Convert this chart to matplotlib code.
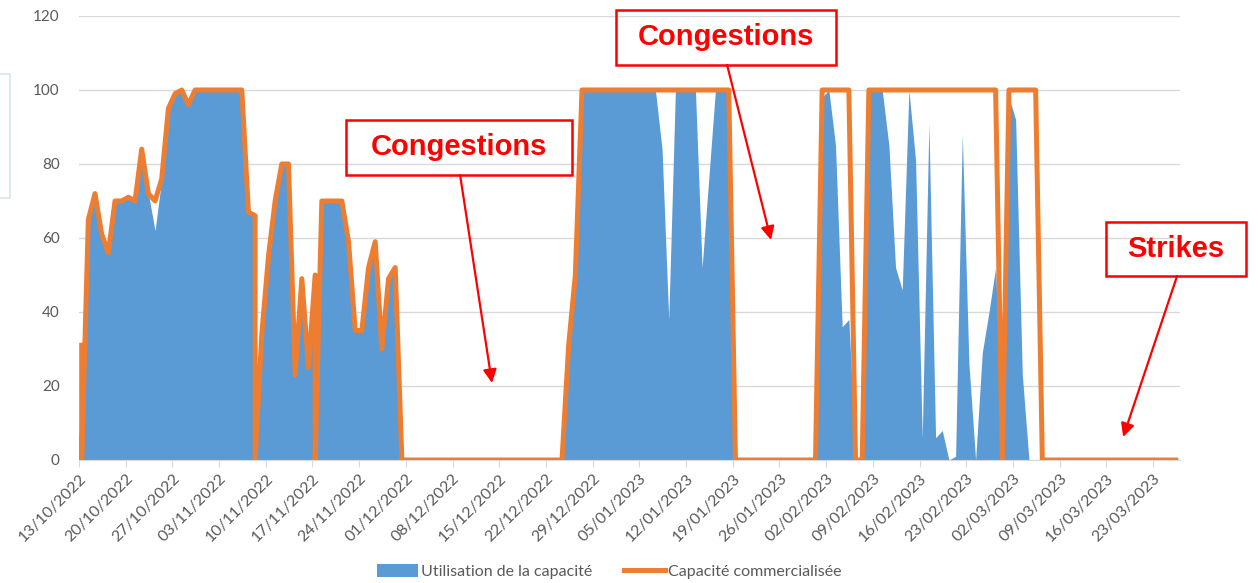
import numpy as np
import pandas as pd
import matplotlib
matplotlib.use("Agg")
import matplotlib.pyplot as plt
import matplotlib.dates as mdates
from matplotlib.patches import Rectangle, Patch
from matplotlib.lines import Line2D

plt.rcParams['font.family'] = ['Lato', 'DejaVu Sans']

# daily series, 13/10/2022 -> 26/03/2023 (one row = one week)
dates = pd.date_range("2022-10-13", "2023-03-26", freq="D")

capacity = [
    31, 65, 72, 61, 56, 70, 70,
    71, 70, 84, 72, 70, 76, 95,
    99, 100, 96, 100, 100, 100, 100,
    100, 100, 100, 100, 67, 66, 34,
    55, 70, 80, 80, 23, 49, 25,
    50, 70, 70, 70, 70, 59, 35,
    35, 52, 59, 30, 49, 52, 0,
    0, 0, 0, 0, 0, 0, 0,
    0, 0, 0, 0, 0, 0, 0,
    0, 0, 0, 0, 0, 0, 0,
    0, 0, 0, 31, 50, 100, 100,
    100, 100, 100, 100, 100, 100, 100,
    100, 100, 100, 100, 100, 100, 100,
    100, 100, 100, 100, 100, 100, 100,
    0, 0, 0, 0, 0, 0, 0,
    0, 0, 0, 0, 0, 0, 100,
    100, 100, 100, 100, 0, 0, 100,
    100, 100, 100, 100, 100, 100, 100,
    100, 100, 100, 100, 100, 100, 100,
    100, 100, 100, 100, 100, 0, 100,
    100, 100, 100, 100, 0, 0, 0,
    0, 0, 0, 0, 0, 0, 0,
    0, 0, 0, 0, 0, 0, 0,
    0, 0, 0, 0,
]

usage = [
    0, 65, 72, 61, 56, 70, 70,
    71, 70, 84, 72, 62, 76, 95,
    99, 100, 96, 100, 100, 100, 100,
    100, 100, 100, 100, 67, 66, 34,
    55, 70, 80, 80, 23, 49, 25,
    50, 70, 70, 70, 70, 59, 35,
    35, 52, 59, 30, 49, 52, 0,
    0, 0, 0, 0, 0, 0, 0,
    0, 0, 0, 0, 0, 0, 0,
    0, 0, 0, 0, 0, 0, 0,
    0, 0, 0, 31, 50, 100, 100,
    100, 100, 100, 100, 100, 100, 100,
    100, 100, 100, 84, 38, 100, 100,
    100, 100, 52, 76, 100, 100, 100,
    0, 0, 0, 0, 0, 0, 0,
    0, 0, 0, 0, 0, 0, 98,
    100, 85, 36, 38, 0, 0, 100,
    100, 100, 85, 52, 46, 100, 81,
    6, 91, 6, 8, 0, 1, 88,
    26, 0, 29, 40, 52, 0, 98,
    92, 23, 0, 0, 0, 0, 0,
    0, 0, 0, 0, 0, 0, 0,
    0, 0, 0, 0, 0, 0, 0,
    0, 0, 0, 0,
]

# days where the series falls back to zero within the same day
drop_days = pd.to_datetime(["2022-10-13", "2022-11-08", "2022-11-17"])

x, cap, use = [], [], []
for d, c, u in zip(dates, capacity, usage):
    x.append(d); cap.append(c); use.append(u)
    if d in drop_days:
        x.append(d); cap.append(0); use.append(0)

xn = mdates.date2num(x) + 0.4   # points sit roughly mid-day

BLUE = "#5B9BD5"
ORANGE = "#ED7D31"
GREY = "#595959"
RED = "#FF0000"

fig = plt.figure(figsize=(12.58, 5.83), dpi=100)
ax = fig.add_axes([0.0628, 0.211, 0.875, 0.7616])

ax.fill_between(xn, use, 0, color=BLUE, lw=0, zorder=2)
ax.plot(xn, cap, color=ORANGE, lw=3.6, solid_joinstyle="round", zorder=3)

ax.set_ylim(0, 120)
ax.set_yticks(np.arange(0, 121, 20))
ax.set_xlim(mdates.date2num(dates[0]), mdates.date2num(dates[-1]) + 1)
ticks = pd.date_range("2022-10-13", "2023-03-23", freq="7D")
ax.set_xticks(mdates.date2num(ticks))
ax.set_xticklabels([t.strftime("%d/%m/%Y") for t in ticks], rotation=45,
                   ha="right", rotation_mode="anchor")

ax.grid(axis="y", color="#d9d9d9", lw=1, zorder=0)
ax.set_axisbelow(True)
for s in ["top", "right", "left"]:
    ax.spines[s].set_visible(False)
ax.spines["bottom"].set_color("#d9d9d9")
ax.tick_params(axis="y", length=0, pad=14, labelsize=11, labelcolor=GREY)
ax.tick_params(axis="x", length=5, color="#d9d9d9", pad=3, labelsize=11.5,
               labelcolor=GREY)

# callouts
boxes = [
    ("Congestions", (0.2426, 0.6419, 0.2053, 0.1239), (0.3453, 0.7038),
     (0.3462, 0.6419), (0.3752, 0.1734)),
    ("Congestions", (0.4879, 0.8896, 0.1999, 0.1239), (0.5879, 0.9516),
     (0.5888, 0.8896), (0.6287, 0.4955)),
    ("Strikes", (0.9331, 0.4144, 0.1272, 0.1216), (0.9967, 0.4752),
     (0.9976, 0.4144), (0.9486, 0.0518)),
]
for label, rect, txt, start, tip in boxes:
    ax.add_patch(Rectangle(rect[:2], rect[2], rect[3], transform=ax.transAxes,
                           fill=False, edgecolor=RED, lw=1.8, clip_on=False,
                           zorder=5))
    ax.text(*txt, label, transform=ax.transAxes, ha="center", va="center",
            color=RED, fontsize=21, fontweight="bold",
            family=["Liberation Sans", "DejaVu Sans"], zorder=6)
    ax.annotate("", xy=tip, xytext=start, xycoords="axes fraction",
                textcoords="axes fraction",
                arrowprops=dict(arrowstyle="-|>", color=RED, lw=1.6,
                                mutation_scale=20, shrinkA=0, shrinkB=0),
                zorder=6)

# stray frame at the left edge
fig.patches.append(Rectangle((-0.002, 0.660), 0.010, 0.213,
                             transform=fig.transFigure, fill=False,
                             edgecolor="#d5e8e4", lw=1.2))

handles = [Patch(facecolor=BLUE, edgecolor="none"),
           Line2D([], [], color=ORANGE, lw=3.6)]
fig.legend(handles, ["Utilisation de la capacité", "Capacité commercialisée"],
           loc="center", bbox_to_anchor=(0.484, 0.02), ncol=2, frameon=False,
           fontsize=11.5, labelcolor=GREY, handlelength=2.6, handleheight=0.9,
           handletextpad=0.15, columnspacing=2.0)

fig.savefig("out.png", dpi=100)
